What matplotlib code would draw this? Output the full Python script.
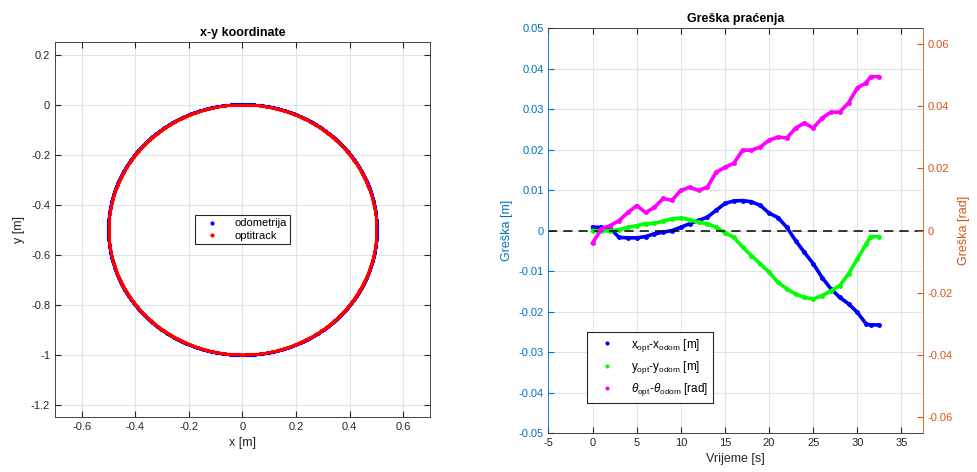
import numpy as np
import matplotlib.pyplot as plt
from matplotlib.lines import Line2D

plt.rcParams['font.family'] = ['Liberation Sans', 'DejaVu Sans']
plt.rcParams['mathtext.fontset'] = 'custom'
plt.rcParams['mathtext.rm'] = 'Liberation Sans'
plt.rcParams['mathtext.it'] = 'Liberation Sans:italic'
plt.rcParams['axes.unicode_minus'] = False

# krug (odometrija / optitrack)
odom_center = [0.0, -0.5]
odom_r = 0.502
opt_center = [0.0, -0.5]
opt_r = 0.5

# greska pracenja
t = [0, 1, 2, 3, 4, 5, 6, 7, 8, 9, 10, 11, 12, 13, 14, 15, 16, 17, 18, 19,
     20, 21, 22, 23, 24, 25, 26, 27, 28, 29, 30, 31, 31.5, 32.4]
ex = [0.0008, 0.0008, 0.0005, -0.0017, -0.0018, -0.0018, -0.0015, -0.0008,
      -0.0004, 0.0, 0.0008, 0.0017, 0.0025, 0.0033, 0.005, 0.0067, 0.0073,
      0.0074, 0.0071, 0.0062, 0.0043, 0.0032, 0.0008, -0.0025, -0.0054,
      -0.0082, -0.0116, -0.0144, -0.0165, -0.0181, -0.0202, -0.0231, -0.0233,
      -0.0233]
ey = [0.0, -0.0002, 0.0, 0.0002, 0.0008, 0.0012, 0.0017, 0.0018, 0.0023,
      0.0029, 0.0031, 0.0027, 0.002, 0.0017, 0.0008, -0.0005, -0.0017,
      -0.0041, -0.0062, -0.0082, -0.0103, -0.0128, -0.0144, -0.0157, -0.0165,
      -0.0169, -0.0161, -0.0149, -0.0136, -0.0107, -0.007, -0.0033, -0.0015,
      -0.0015]
eth = [-0.004, 0.0006, 0.0016, 0.0032, 0.0058, 0.008, 0.0058, 0.0074, 0.0103,
       0.0097, 0.0129, 0.0139, 0.0129, 0.0139, 0.0187, 0.0203, 0.0216, 0.0258,
       0.0258, 0.0268, 0.029, 0.030, 0.0297, 0.0329, 0.0345, 0.0329, 0.0361,
       0.038, 0.038, 0.041, 0.0458, 0.0474, 0.0494, 0.0494]

mblue = '#0072BD'
morange = '#D95319'
dark = '#262626'

fig = plt.figure(figsize=(9.77, 4.72), dpi=100)

def style(ax):
    ax.tick_params(direction='in', length=4, labelsize=8, colors=dark)
    ax.grid(True, color='#dfe3ea', linewidth=0.8)
    ax.set_axisbelow(True)
    for s in ax.spines.values():
        s.set_color(dark)
        s.set_linewidth(0.6)

# lijevi graf
ax1 = fig.add_axes([0.0563, 0.1165, 0.3838, 0.7945])
style(ax1)
ax1.tick_params(top=True, right=True)
ang = np.linspace(0, 2 * np.pi, 1500)
ax1.plot(odom_center[0] + odom_r * np.sin(ang), odom_center[1] + odom_r * np.cos(ang),
         '.', color='blue', markersize=2.5)
ax1.plot(opt_center[0] + opt_r * np.sin(ang), opt_center[1] + opt_r * np.cos(ang),
         '.', color='red', markersize=2.5)
ax1.set_xlim(-0.7, 0.7)
ax1.set_ylim(-1.25, 0.25)
ax1.set_xticks(np.arange(-0.6, 0.61, 0.2))
ax1.set_yticks(np.arange(-1.2, 0.21, 0.2))
ax1.set_xticklabels(['-0.6', '-0.4', '-0.2', '0', '0.2', '0.4', '0.6'])
ax1.set_yticklabels(['-1.2', '-1', '-0.8', '-0.6', '-0.4', '-0.2', '0', '0.2'])
ax1.set_xlabel('x [m]', fontsize=9, color=dark)
ax1.set_ylabel('y [m]', fontsize=9, color=dark)
ax1.set_title('x-y koordinate', fontsize=9, fontweight='bold', color='black', pad=4)
h1 = [Line2D([], [], ls='none', marker='.', color='blue', markersize=4),
      Line2D([], [], ls='none', marker='.', color='red', markersize=4)]
leg1 = ax1.legend(h1, ['odometrija', 'optitrack'], loc='center', fontsize=8,
                  fancybox=False, framealpha=1, edgecolor=dark, handlelength=2.5,
                  borderpad=0.3, labelspacing=0.2)
leg1.get_frame().set_linewidth(0.8)

# desni graf
ax2 = fig.add_axes([0.5614, 0.0826, 0.383, 0.858])
style(ax2)
ax2.tick_params(top=True)
ax2.tick_params(axis='y', colors=mblue)
ax2.spines['left'].set_color(mblue)
ax2.spines['right'].set_visible(False)
ax2.plot(t, ex, '-', color='blue', lw=2.6, marker='.', markersize=5)
ax2.plot(t, ey, '-', color='#00ff00', lw=2.6, marker='.', markersize=5)
ax2.axhline(0, color='black', ls=(0, (6, 4)), lw=1.1)
ax2.set_xlim(-5, 37.4)
ax2.set_ylim(-0.05, 0.05)
ax2.set_xticks(np.arange(-5, 36, 5))
ax2.set_yticks(np.arange(-0.05, 0.051, 0.01))
ax2.set_yticklabels(['-0.05', '-0.04', '-0.03', '-0.02', '-0.01', '0',
                     '0.01', '0.02', '0.03', '0.04', '0.05'])
ax2.set_xlabel('Vrijeme [s]', fontsize=9, color=dark)
ax2.set_ylabel('Greška [m]', fontsize=9, color=mblue)
ax2.set_title('Greška praćenja', fontsize=9, fontweight='bold', color='black', pad=4)

ax3 = ax2.twinx()
ax3.set_ylim(-0.065, 0.065)
ax3.plot(t, eth, '-', color='magenta', lw=2.6, marker='.', markersize=5)
ax3.set_yticks(np.arange(-0.06, 0.061, 0.02))
ax3.set_yticklabels(['-0.06', '-0.04', '-0.02', '0', '0.02', '0.04', '0.06'])
ax3.tick_params(direction='in', length=4, labelsize=8, colors=morange)
for k in ['left', 'top', 'bottom']:
    ax3.spines[k].set_visible(False)
ax3.spines['right'].set_color(morange)
ax3.spines['right'].set_linewidth(0.6)
ax3.set_ylabel('Greška [rad]', fontsize=9, color=morange)

h2 = [Line2D([], [], ls='none', marker='.', color='blue', markersize=4),
      Line2D([], [], ls='none', marker='.', color='#00ff00', markersize=4),
      Line2D([], [], ls='none', marker='.', color='magenta', markersize=4)]
lab2 = ['x$_{\\mathregular{opt}}$-x$_{\\mathregular{odom}}$ [m]',
        'y$_{\\mathregular{opt}}$-y$_{\\mathregular{odom}}$ [m]',
        '$\\theta_{\\mathregular{opt}}$-$\\theta_{\\mathregular{odom}}$ [rad]']
leg2 = ax3.legend(h2, lab2, loc='lower left', bbox_to_anchor=(0.103, 0.074),
                  fontsize=8.5, fancybox=False, framealpha=1, edgecolor=dark,
                  handlelength=2.5, borderpad=0.4, labelspacing=0.45, borderaxespad=0)
leg2.get_frame().set_linewidth(0.8)

fig.savefig('out.png', dpi=100)
